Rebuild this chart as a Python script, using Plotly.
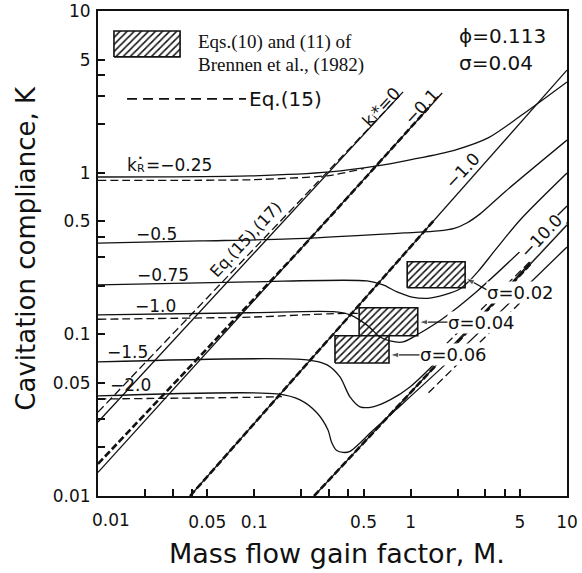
import plotly.graph_objects as go

# ---------------- data ----------------
# constant k_R* curves (solid, exact solution)
kR_025_M = [0.01, 0.094, 0.305, 0.61, 0.99, 1.92, 3.13, 5.16, 10]
kR_025_K = [0.94, 0.955, 1.01, 1.10, 1.20, 1.38, 1.64, 2.28, 3.64]
kR_050_M = [0.01, 0.045, 0.169, 0.92, 1.5, 1.9, 2.3, 2.78, 4.0, 10]
kR_050_K = [0.367, 0.378, 0.389, 0.424, 0.436, 0.452, 0.49, 0.556, 0.76, 1.59]
kR_075_M = [0.01, 0.094, 0.526, 0.666, 0.818, 1.02, 1.29, 1.66, 2.05, 2.35, 2.7, 3.5, 5.01, 10]
kR_075_K = [0.202, 0.211, 0.214, 0.202, 0.183, 0.170, 0.167, 0.176, 0.19, 0.212, 0.245, 0.335, 0.51, 0.995]
kR_100_M = [0.01, 0.094, 0.319, 0.409, 0.526, 0.637, 0.738, 0.894, 1.15, 1.6, 2.66, 6.44, 10]
kR_100_K = [0.132, 0.136, 0.138, 0.132, 0.114, 0.0963, 0.091, 0.0897, 0.102, 0.125, 0.185, 0.41, 0.622]
kR_150_M = [0.01, 0.217, 0.292, 0.353, 0.409, 0.474, 0.574, 0.738, 0.99, 1.79, 10]
kR_150_K = [0.0675, 0.0695, 0.0647, 0.0545, 0.041, 0.0356, 0.0356, 0.0393, 0.0473, 0.0824, 0.49]
kR_200_M = [0.01, 0.14, 0.196, 0.252, 0.296, 0.312, 0.335, 0.37, 0.409, 0.474, 0.55, 0.8, 1.79, 10]
kR_200_K = [0.0416, 0.0428, 0.0393, 0.0326, 0.0256, 0.0215, 0.0192, 0.0186, 0.0189, 0.0213, 0.0245, 0.034, 0.0695, 0.347]

# constant k_I* lines (solid)
kI_0_M = [0.01, 0.894]
kI_0_K = [0.0287, 3.16]
kI_01_M = [0.01, 1.59]
kI_01_K = [0.0140, 3.11]
kI_1_M = [0.0388, 10]
kI_1_K = [0.01, 4.31]
kI_10_M = [0.241, 10]
kI_10_K = [0.01, 0.475]

# Eq.(15) approximations (dashed)
eq15_025_M = [0.01, 0.1, 0.3, 0.5]
eq15_025_K = [0.895, 0.905, 0.96, 1.06]
eq15_100_M = [0.01, 0.1, 0.3, 0.47]
eq15_100_K = [0.124, 0.128, 0.134, 0.135]
eq15_200_M = [0.01, 0.1, 0.15]
eq15_200_K = [0.0398, 0.0408, 0.0412]
eq15_tailA_M = [1.5, 6.5]
eq15_tailA_K = [0.078, 0.314]
eq15_tailB_M = [1.3, 6.0]
eq15_tailB_K = [0.0435, 0.186]
eq15_kI0_M = [0.01, 0.25, 0.85]
eq15_kI0_K = [0.033, 0.86, 2.99]
eq15_kI01_M = [0.01, 0.196, 1.3]
eq15_kI01_K = [0.0158, 0.334, 2.52]
eq15_kI1_M = [0.0388, 1.43]
eq15_kI1_K = [0.01, 0.515]
eq15_kI10_M = [0.241, 6.0]
eq15_kI10_K = [0.01, 0.28]

# Brennen et al. (1982) ranges (hatched boxes)
sigma_labels = ["σ=0.02", "σ=0.04", "σ=0.06"]
box_M_lo = [0.95, 0.468, 0.328]
box_M_hi = [2.23, 1.11, 0.727]
box_K_lo = [0.194, 0.098, 0.0665]
box_K_hi = [0.281, 0.146, 0.098]
# arrows from sigma labels to boxes: tail (at label) -> tip (at box)
arrow_tail_M = [3.18, 1.73, 1.15]
arrow_tail_K = [0.185, 0.119, 0.0746]
arrow_tip_M = [2.26, 1.13, 0.738]
arrow_tip_K = [0.222, 0.119, 0.0746]

# legend swatch / legend dashed sample
legend_box_M = [0.01265, 0.0335]
legend_box_K = [5.2, 7.52]
legend_dash_M = [0.01534, 0.0885]
legend_dash_K = [2.86, 2.86]

x_tickvals = [0.05, 0.1, 0.5, 1, 5, 10]
x_ticktext = ["0.05", "0.1", "0.5", "1", "5", "10"]
y_tickvals = [0.01, 0.05, 0.1, 0.5, 1, 5, 10]
y_ticktext = ["0.01", "0.05", "0.1", "0.5", "1", "5", "10"]
minor_vals = [0.02, 0.03, 0.04, 0.2, 0.3, 0.4, 2, 3, 4]

INK = "#111111"
SANS = "DejaVu Sans"
SERIF = "Liberation Serif"

fig = go.Figure()

# hatched boxes (drawn first; curves pass over them)
def hatched(m_lo, m_hi, k_lo, k_hi):
    return go.Scatter(
        x=[m_lo, m_hi, m_hi, m_lo, m_lo], y=[k_lo, k_lo, k_hi, k_hi, k_lo],
        mode="lines", fill="toself", fillcolor="white",
        fillpattern=dict(shape="/", fgcolor=INK, bgcolor="white", size=5, solidity=0.3, fillmode="replace"),
        line=dict(color=INK, width=1.6), hoverinfo="skip")

for i in range(len(sigma_labels)):
    fig.add_trace(hatched(box_M_lo[i], box_M_hi[i], box_K_lo[i], box_K_hi[i]))
fig.add_trace(hatched(legend_box_M[0], legend_box_M[1], legend_box_K[0], legend_box_K[1]))

def solid(m, k, w=1.3, spline=True):
    return go.Scatter(x=m, y=k, mode="lines",
                      line=dict(color=INK, width=w, shape="spline" if spline else "linear", smoothing=0.8),
                      hoverinfo="skip")

def dashed(m, k, w=1.3, dash="8px,4px"):
    return go.Scatter(x=m, y=k, mode="lines",
                      line=dict(color=INK, width=w, dash=dash, shape="spline", smoothing=0.6),
                      hoverinfo="skip")

for m, k in [(kR_025_M, kR_025_K), (kR_050_M, kR_050_K), (kR_075_M, kR_075_K),
             (kR_100_M, kR_100_K), (kR_150_M, kR_150_K), (kR_200_M, kR_200_K)]:
    fig.add_trace(solid(m, k))

for m, k in [(kI_0_M, kI_0_K), (kI_01_M, kI_01_K), (kI_1_M, kI_1_K), (kI_10_M, kI_10_K)]:
    fig.add_trace(solid(m, k, spline=False))

for m, k in [(eq15_025_M, eq15_025_K), (eq15_100_M, eq15_100_K), (eq15_200_M, eq15_200_K),
             (eq15_tailA_M, eq15_tailA_K), (eq15_tailB_M, eq15_tailB_K), (eq15_kI0_M, eq15_kI0_K)]:
    fig.add_trace(dashed(m, k))

for m, k in [(eq15_kI01_M, eq15_kI01_K), (eq15_kI1_M, eq15_kI1_K), (eq15_kI10_M, eq15_kI10_K)]:
    fig.add_trace(dashed(m, k, w=2.6, dash="7px,3px"))

fig.add_trace(go.Scatter(x=legend_dash_M, y=legend_dash_K, mode="lines",
                         line=dict(color=INK, width=1.6, dash="10px,6px"), hoverinfo="skip"))

ann = []
def txt(x, y, s, size=17, angle=0, xanchor="center", font=SANS, bg=None, xref="x", yref="y",
        xshift=0, yshift=0):
    d = dict(x=x, y=y, xref=xref, yref=yref, text=s, showarrow=False, textangle=angle,
             xanchor=xanchor, yanchor="middle", xshift=xshift, yshift=yshift,
             font=dict(family=font, size=size, color=INK))
    if bg:
        d["bgcolor"] = bg
        d["borderpad"] = 0
    ann.append(d)

# curve labels (positions in log10 units)
txt(-1.827, 0.048, "k", xanchor="left")
txt(-1.827, 0.048, "R", size=11, xanchor="left", xshift=10, yshift=-4)
txt(-1.827, 0.048, "•", size=8, xanchor="left", xshift=11, yshift=6)
txt(-1.706, 0.048, "=−0.25", xanchor="left")
txt(-1.623, -0.379, "−0.5")
txt(-1.584, -0.633, "−0.75")
txt(-1.635, -0.824, "−1.0")
txt(-1.814, -1.109, "−1.5")
txt(-1.789, -1.313, "−2.0")
txt(-1.055, -0.415, "Eq.(15),(17)", size=16, angle=-47)
txt(-0.189, 0.406, "kᵢ*=0", angle=-47)
txt(0.067, 0.406, "−0.1", angle=-47)
txt(0.329, 0.0105, "−1.0", angle=-47)
txt(0.834, -0.391, "−10.0", angle=-47, bg="white")
txt(0.700, -0.744, sigma_labels[0], size=18, bg="white")
txt(0.450, -0.929, sigma_labels[1], size=18, bg="white")
txt(0.271, -1.127, sigma_labels[2], size=18, bg="white")
# parameters
txt(0.297, 0.845, "ϕ=0.113", size=20, xanchor="left")
txt(0.297, 0.678, "σ=0.04", size=20, xanchor="left")
# legend
txt(-1.373, 0.808, "Eqs.(10) and (11) of", size=19, xanchor="left", font=SERIF)
txt(-1.373, 0.666, "Brennen et al., (1982)", size=19, xanchor="left", font=SERIF)
txt(-1.045, 0.456, "Eq.(15)", size=20, xanchor="left")

# arrows (line + arrowhead marker pointing along the line)
for i in range(len(arrow_tail_M)):
    fig.add_trace(go.Scatter(
        x=[arrow_tail_M[i], arrow_tip_M[i]], y=[arrow_tail_K[i], arrow_tip_K[i]],
        mode="lines+markers", line=dict(color=INK, width=1.2),
        marker=dict(symbol="arrow", size=[0, 9], angleref="previous", color=INK),
        hoverinfo="skip"))

# axis titles and the shifted 0.01 tick label on the x axis
ann.append(dict(x=0.51, y=-0.118, xref="paper", yref="paper", text="Mass flow gain factor, M.",
                showarrow=False, xanchor="center", yanchor="middle",
                font=dict(family=SANS, size=27, color=INK)))
ann.append(dict(x=-0.1535, y=0.51, xref="paper", yref="paper", text="Cavitation compliance, K",
                showarrow=False, textangle=-90, xanchor="center", yanchor="middle",
                font=dict(family=SANS, size=26, color=INK)))
ann.append(dict(x=-1.917, y=0, xref="x", yref="paper", yshift=-24, text="0.01",
                showarrow=False, xanchor="center", yanchor="middle",
                font=dict(family=SANS, size=17, color=INK)))

axis_common = dict(type="log", range=[-2, 1], showgrid=False, zeroline=False,
                   showline=True, linewidth=2, linecolor=INK, mirror=True,
                   ticks="inside", ticklen=7, tickwidth=1.5, tickcolor=INK,
                   tickfont=dict(family=SANS, size=17, color=INK),
                   minor=dict(ticks="inside", ticklen=7, tickwidth=1.5, tickcolor=INK,
                              tickmode="array", tickvals=minor_vals, showgrid=False))

fig.update_layout(
    width=582, height=573, autosize=False,
    margin=dict(l=98, r=15, t=11, b=77),
    paper_bgcolor="white", plot_bgcolor="white", showlegend=False,
    xaxis=dict(axis_common, tickmode="array", tickvals=x_tickvals, ticktext=x_ticktext,
               ticklabelstandoff=10, automargin=False),
    yaxis=dict(axis_common, tickmode="array", tickvals=y_tickvals, ticktext=y_ticktext,
               ticklabelstandoff=2, automargin=False),
    annotations=ann,
)

fig.write_html("out.html")
